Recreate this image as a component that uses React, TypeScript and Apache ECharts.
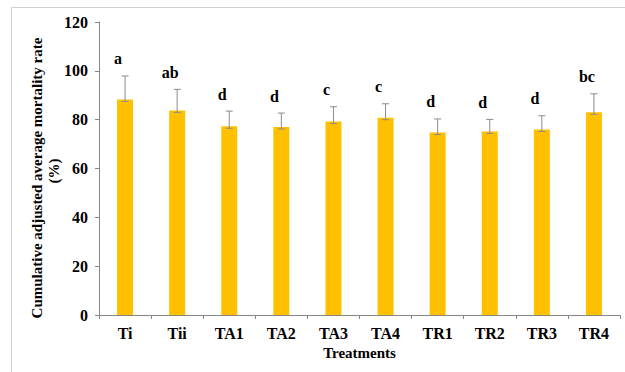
import React, { useEffect, useRef } from "react";
import * as echarts from "echarts";

const categories = ["Ti", "Tii", "TA1", "TA2", "TA3", "TA4", "TR1", "TR2", "TR3", "TR4"];
const meanRate = [88.3, 83.8, 77.3, 77.0, 79.2, 80.8, 74.7, 75.2, 76.0, 83.0];
const stdErr = [9.6, 8.6, 6.2, 5.7, 6.1, 5.7, 5.6, 4.9, 5.6, 7.6];
const groupLetters = ["a", "ab", "d", "d", "c", "c", "d", "d", "d", "bc"];
const yTicks = { min: 0, max: 120, interval: 20 };

const FONT = "'Liberation Serif', 'Times New Roman', serif";

export default function App() {
  const ref = useRef<HTMLDivElement>(null);

  useEffect(() => {
    if (!ref.current) return;
    const chart = echarts.init(ref.current, null, { renderer: "svg" });

    const errData = categories.map((_, i) => [i, meanRate[i], meanRate[i] + stdErr[i]]);

    chart.setOption({
      animation: false,
      backgroundColor: "#ffffff",
      grid: { left: 99, right: 5, top: 22, bottom: 57, containLabel: false },
      xAxis: {
        type: "category",
        data: categories,
        boundaryGap: true,
        name: "Treatments",
        nameLocation: "middle",
        nameGap: 30,
        nameTextStyle: { fontFamily: FONT, fontWeight: "bold", fontSize: 15, color: "#000" },
        axisLine: { lineStyle: { color: "#868686", width: 1 } },
        axisTick: { show: true, length: 4, lineStyle: { color: "#868686" } },
        axisLabel: { fontFamily: FONT, fontWeight: "bold", fontSize: 16, color: "#000", margin: 10 },
      },
      yAxis: {
        type: "value",
        min: yTicks.min,
        max: yTicks.max,
        interval: yTicks.interval,
        splitLine: { show: false },
        axisLine: { show: true, lineStyle: { color: "#868686", width: 1 } },
        axisTick: { show: true, length: 4, lineStyle: { color: "#868686" } },
        axisLabel: { fontFamily: FONT, fontWeight: "bold", fontSize: 16, color: "#000", margin: 11 },
      },
      graphic: [
        { type: "line", shape: { x1: 11.5, y1: 7.5, x2: 625, y2: 7.5 }, style: { stroke: "#cfcfcf", lineWidth: 1 } },
        { type: "line", shape: { x1: 11.5, y1: 7.5, x2: 11.5, y2: 372 }, style: { stroke: "#cfcfcf", lineWidth: 1 } },
        {
          type: "text",
          x: 37,
          y: 178,
          rotation: Math.PI / 2,
          style: {
            text: "Cumulative adjusted average mortality rate",
            fontFamily: FONT,
            fontWeight: "bold",
            fontSize: 15,
            fill: "#000",
            align: "center",
            verticalAlign: "middle",
          },
        },
        {
          type: "text",
          x: 54,
          y: 171,
          rotation: Math.PI / 2,
          style: {
            text: "(%)",
            fontFamily: FONT,
            fontWeight: "bold",
            fontSize: 15,
            fill: "#000",
            align: "center",
            verticalAlign: "middle",
          },
        },
      ],
      series: [
        {
          type: "bar",
          data: meanRate,
          barWidth: 16,
          itemStyle: { color: "#FFC000" },
          z: 2,
        },
        {
          type: "custom",
          data: errData,
          z: 3,
          encode: { x: 0, y: [1, 2] },
          renderItem: (params: any, api: any) => {
            const i = api.value(0);
            const low = api.coord([i, api.value(1)]);
            const high = api.coord([i, api.value(2)]);
            const cap = 3.5;
            const stroke = { stroke: "#8c8c8c", lineWidth: 1 };
            const letter = groupLetters[params.dataIndex];
            return {
              type: "group",
              children: [
                { type: "line", shape: { x1: low[0], y1: low[1] + 2, x2: high[0], y2: high[1] }, style: stroke },
                { type: "line", shape: { x1: high[0] - cap, y1: high[1], x2: high[0] + cap, y2: high[1] }, style: stroke },
                { type: "line", shape: { x1: low[0] - cap, y1: low[1] + 2, x2: low[0] + cap, y2: low[1] + 2 }, style: stroke },
                {
                  type: "text",
                  x: high[0] - 7,
                  y: high[1] - 9,
                  style: {
                    text: letter,
                    fontFamily: FONT,
                    fontWeight: "bold",
                    fontSize: 16,
                    fill: "#000",
                    align: "center",
                    verticalAlign: "bottom",
                  },
                },
              ],
            };
          },
        },
      ],
    });

    return () => chart.dispose();
  }, []);

  return <div ref={ref} style={{ width: 625, height: 372, position: "absolute", left: 0, top: 0 }} />;
}
